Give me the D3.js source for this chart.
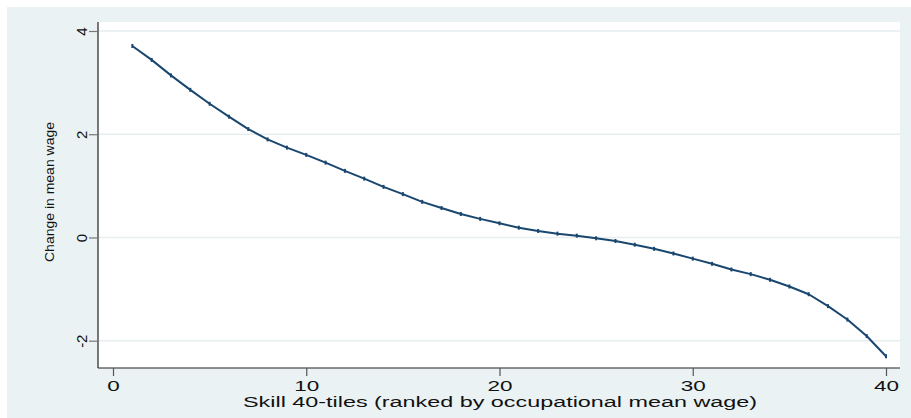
<!DOCTYPE html>
<html>
<head>
<meta charset="utf-8">
<script src="https://cdn.jsdelivr.net/npm/d3@7"></script>
<style>
  html, body { margin: 0; padding: 0; background: #ffffff; }
  svg { display: block; }
  text { font-family: "Liberation Sans", Arial, Helvetica, sans-serif; fill: #111; }
</style>
</head>
<body>
<svg id="chart" width="911" height="418"></svg>
<script>
// Skill 40-tiles and the change in mean wage at each one
const skillTiles = d3.range(1, 41);
const wageChange = [
  3.71, 3.44, 3.14, 2.86, 2.59, 2.34, 2.10, 1.90, 1.74, 1.60,
  1.45, 1.29, 1.14, 0.98, 0.84, 0.69, 0.57, 0.455, 0.36, 0.275,
  0.19, 0.126, 0.074, 0.035, -0.016, -0.068, -0.14, -0.22, -0.31, -0.41,
  -0.51, -0.62, -0.71, -0.82, -0.95, -1.10, -1.33, -1.59, -1.91, -2.30
];
const xTicks = [0, 10, 20, 30, 40];
const yTicks = [-2, 0, 2, 4];
const xTitle = "Skill 40-tiles (ranked by occupational mean wage)";
const yTitle = "Change in mean wage";

const svg = d3.select("#chart");
const W = 911, H = 418;
const plot = { left: 98, right: 900, top: 22, bottom: 368 };

// graph region and plot region
svg.append("rect").attr("x", 7).attr("y", 7).attr("width", W - 7).attr("height", H - 7)
  .attr("fill", "#eaf2f3");
svg.append("rect").attr("x", plot.left).attr("y", plot.top)
  .attr("width", plot.right - plot.left).attr("height", plot.bottom - plot.top)
  .attr("fill", "#ffffff");

const x = d3.scaleLinear().domain([0, 40]).range([113, 886]);
const y = d3.scaleLinear().domain([-2, 4]).range([340.7, 31]);

// horizontal grid lines
svg.append("g").selectAll("line").data(yTicks).join("line")
  .attr("x1", plot.left).attr("x2", plot.right)
  .attr("y1", d => y(d)).attr("y2", d => y(d))
  .attr("stroke", "#e6eef0").attr("stroke-width", 1.5);

// y axis
const yAxis = svg.append("g").attr("transform", `translate(${plot.left},0)`)
  .call(d3.axisLeft(y).tickValues(yTicks).tickSize(9).tickPadding(0).tickFormat(d => String(d)));
yAxis.select(".domain").attr("d", `M0,${plot.top}V${plot.bottom}`).attr("stroke", "#222").attr("stroke-width", 1.2);
yAxis.selectAll(".tick line").attr("stroke", "#777").attr("stroke-width", 1.2);
yAxis.selectAll(".tick text")
  .attr("x", 0).attr("y", 0)
  .attr("transform", "translate(-21,0) rotate(-90)")
  .attr("text-anchor", "middle")
  .attr("dominant-baseline", "central")
  .style("font-size", "15px")
  .style("font-family", "'Liberation Sans', Arial, sans-serif")
  .attr("fill", "#111");

// x axis
const xAxis = svg.append("g").attr("transform", `translate(0,${plot.bottom})`)
  .call(d3.axisBottom(x).tickValues(xTicks).tickSize(8).tickPadding(6).tickFormat(d => String(d)));
xAxis.select(".domain").attr("d", `M${plot.left},0H${plot.right}`).attr("stroke", "#222").attr("stroke-width", 1.2);
xAxis.selectAll(".tick line").attr("stroke", "#555").attr("stroke-width", 1.2);
xAxis.selectAll(".tick text")
  .attr("y", 22.5).attr("dy", null)
  .style("font-size", "15px")
  .style("font-family", "'Liberation Sans', Arial, sans-serif")
  .attr("fill", "#111")
  .attr("textLength", d => String(d).length * 12.5)
  .attr("lengthAdjust", "spacingAndGlyphs");

// axis titles
svg.append("text")
  .attr("x", 500).attr("y", 406.5)
  .attr("text-anchor", "middle")
  .style("font-size", "15.5px")
  .attr("textLength", 514).attr("lengthAdjust", "spacingAndGlyphs")
  .text(xTitle);

// rotated y title, packed tightly along the axis
svg.append("text")
  .attr("transform", "translate(49,192) rotate(-90) scale(1,0.78)")
  .attr("text-anchor", "middle")
  .attr("dominant-baseline", "central")
  .style("font-size", "17px")
  .attr("textLength", 140).attr("lengthAdjust", "spacingAndGlyphs")
  .text(yTitle);

// fitted line with small point markers
const pts = skillTiles.map((s, i) => [s, wageChange[i]]);
const line = d3.line().x(d => x(d[0])).y(d => y(d[1]));
svg.append("path").datum(pts)
  .attr("d", line)
  .attr("fill", "none")
  .attr("stroke", "#1a476f")
  .attr("stroke-width", 2)
  .attr("stroke-linejoin", "round");

svg.append("g").selectAll("line").data(pts).join("line")
  .attr("x1", d => x(d[0])).attr("x2", d => x(d[0]))
  .attr("y1", d => y(d[1]) - 2).attr("y2", d => y(d[1]) + 2)
  .attr("stroke", "#1a476f").attr("stroke-width", 2);
</script>
</body>
</html>
